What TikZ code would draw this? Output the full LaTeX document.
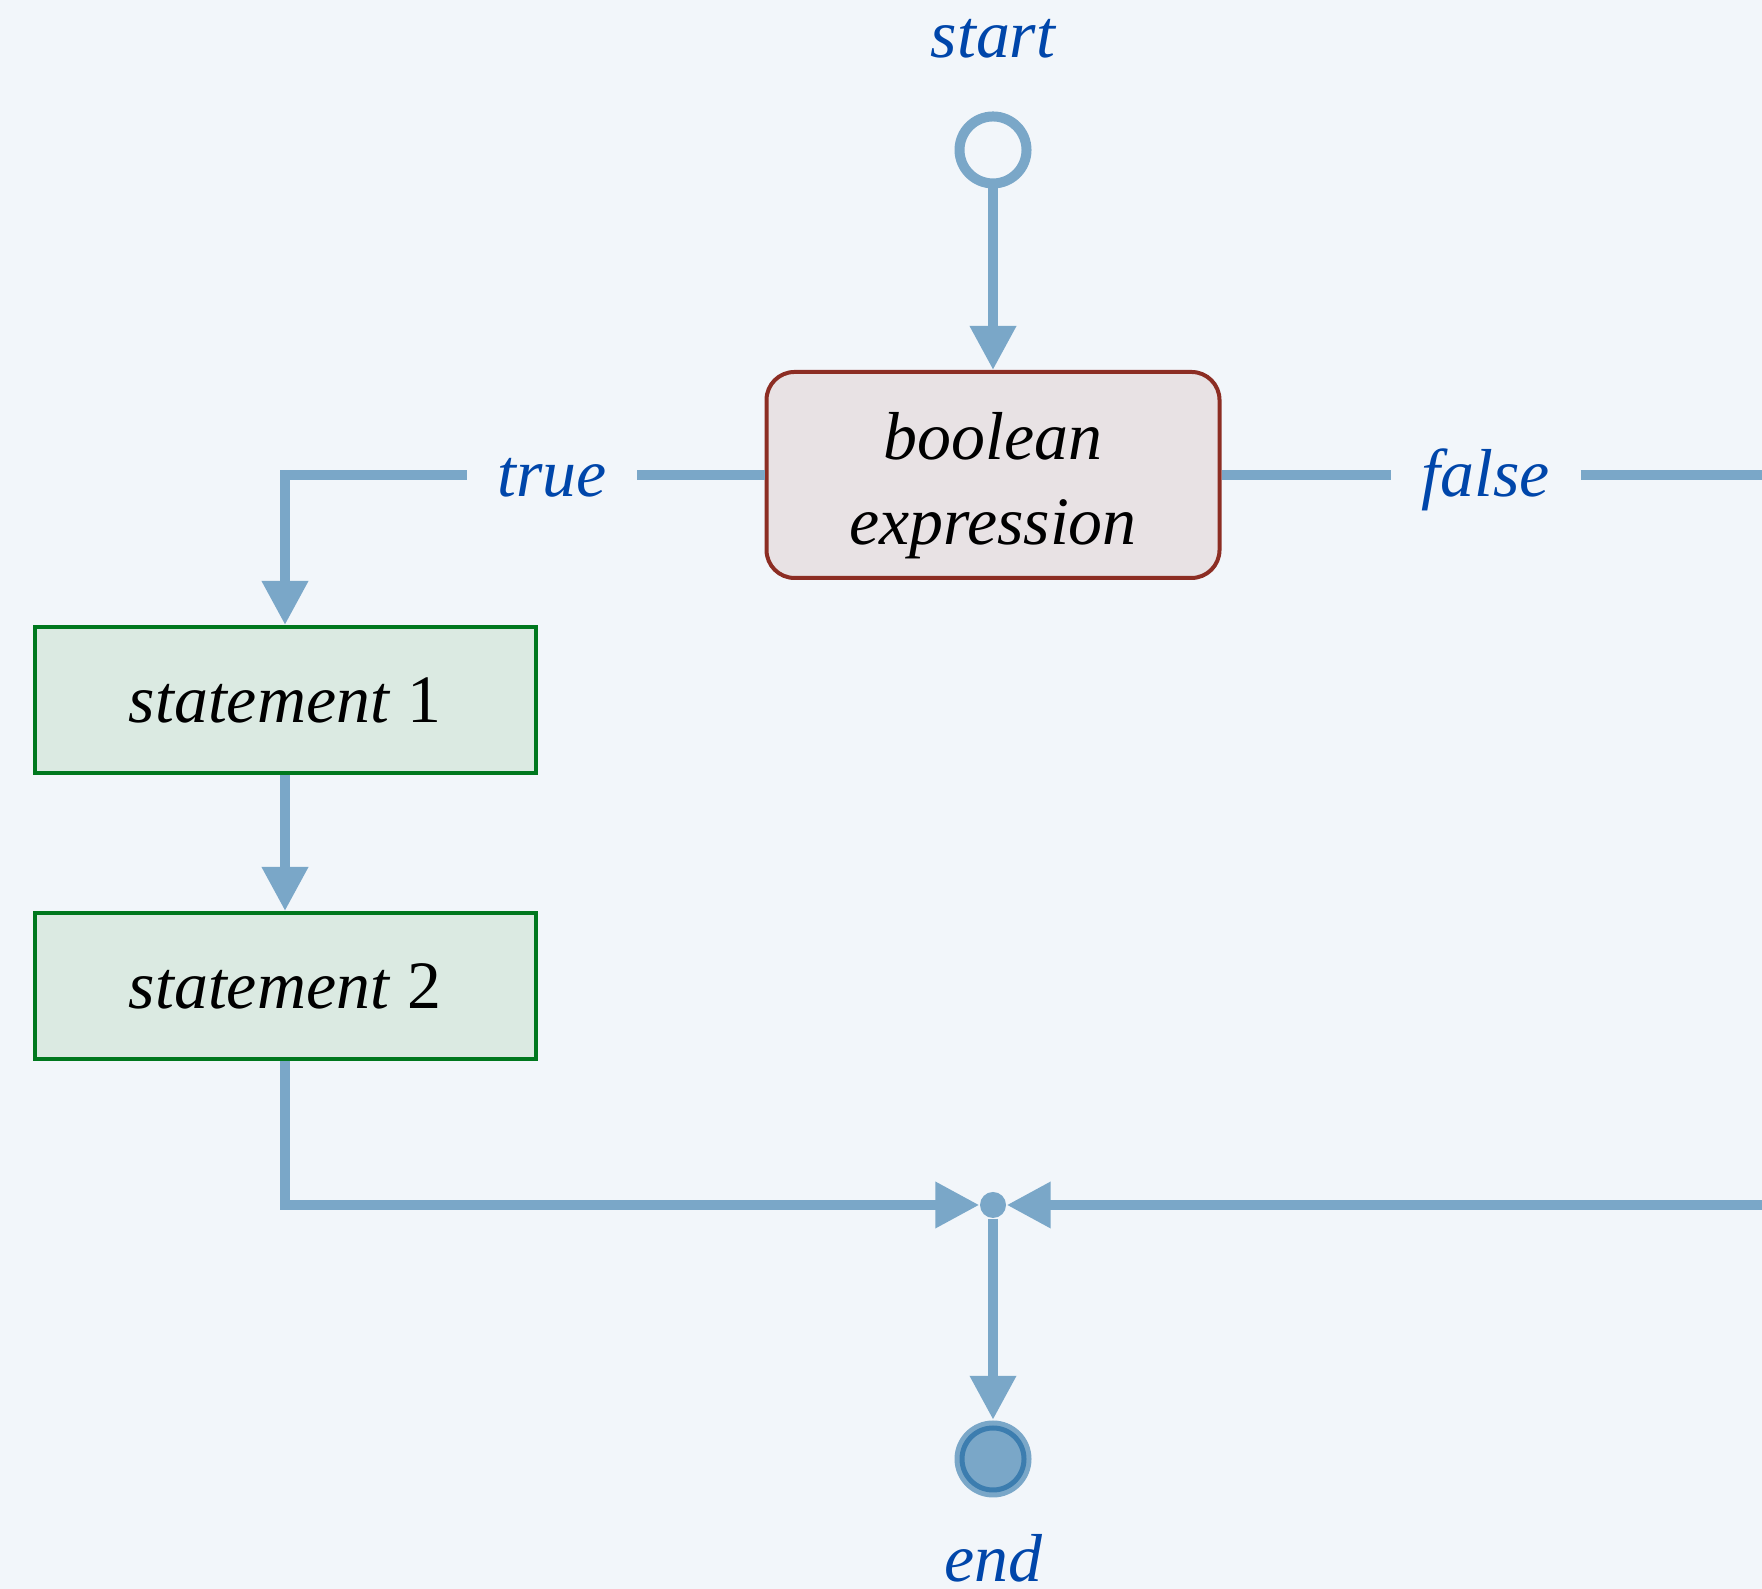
\documentclass[tikz,border=0pt]{standalone}
\usepackage{fontspec}
\setmainfont{Liberation Serif}
\usetikzlibrary{arrows.meta}
\definecolor{bgcol}{RGB}{242,246,250}
\definecolor{flowcol}{RGB}{122,167,200}
\definecolor{labcol}{RGB}{0,70,170}
\definecolor{condfill}{RGB}{232,226,228}
\definecolor{conddraw}{RGB}{140,45,35}
\definecolor{stmtfill}{RGB}{219,234,226}
\definecolor{stmtdraw}{RGB}{0,120,30}
\definecolor{enddraw}{RGB}{60,125,175}
\tikzset{
	flow/.style={draw=flowcol, line width=0.1cm},
	tip/.style={-{Triangle[length=0.44cm,width=0.44cm]}},
	lbl/.style={text=labcol, font=\fontsize{19.3}{23}\selectfont\itshape, inner xsep=0.3cm},
	cond/.style={draw=conddraw, fill=condfill, line width=0.04cm, rounded corners=0.28cm,
		minimum width=4.53cm, minimum height=2.06cm, align=center, text height=43.4pt,
		font=\fontsize{19.3}{24}\selectfont\itshape},
	stmt/.style={draw=stmtdraw, fill=stmtfill, line width=0.04cm,
		minimum width=5.01cm, minimum height=1.46cm, font=\fontsize{19.3}{23}\selectfont}
}
\begin{document}
\begin{tikzpicture}
	\useasboundingbox (0,0) rectangle (17.62,15.89);
	\fill [bgcol] (0,0) rectangle (17.62,15.89);
	% labels
	\path node (lstart) at (9.93,15.31) [lbl, anchor=base] {start}
		  node (lend) at (9.93,0.07) [lbl, anchor=base] {end}
		  node (true) at (5.52,10.92) [lbl, anchor=base, fill=bgcol] {true}
		  node (false) at (14.86,10.92) [lbl, anchor=base, fill=bgcol] {false};
	% states
	\node (start) at (9.93,14.39) [circle, draw=flowcol, line width=0.1cm, minimum size=0.67cm, inner sep=0] {};
	\node (cond) at (9.93,11.14) [cond] {boolean\\expression};
	\node (s1) at (2.85,8.89) [stmt] {\textit{statement} 1};
	\node (s2) at (2.85,6.03) [stmt] {\textit{statement} 2};
	\node (join) at (9.93,3.84) [circle, fill=flowcol, inner sep=0, minimum size=0.26cm] {};
	\node (stop) at (9.93,1.30) [circle, fill=flowcol, inner sep=0, minimum size=0.77cm] {};
	\draw [enddraw, line width=0.05cm] (stop) circle (0.31cm);
	\coordinate (edgeT) at (17.62,11.14);
	\coordinate (edgeB) at (17.62,3.84);
	% flow
	\draw [flow, tip] (start) -- (cond);
	\draw [flow] (cond.west) -- (cond.west -| true.east);
	\draw [flow, tip] (true.west |- cond.west) -| (s1.north);
	\draw [flow] (cond.east) -- (cond.east -| false.west);
	\draw [flow] (false.east |- cond.east) -- (edgeT);
	\draw [flow, tip] (s1) -- (s2);
	\draw [flow, tip] (s2) |- (join);
	\draw [flow, tip] (edgeB) -- (join);
	\draw [flow, tip] (join) -- (stop);
\end{tikzpicture}
\end{document}
